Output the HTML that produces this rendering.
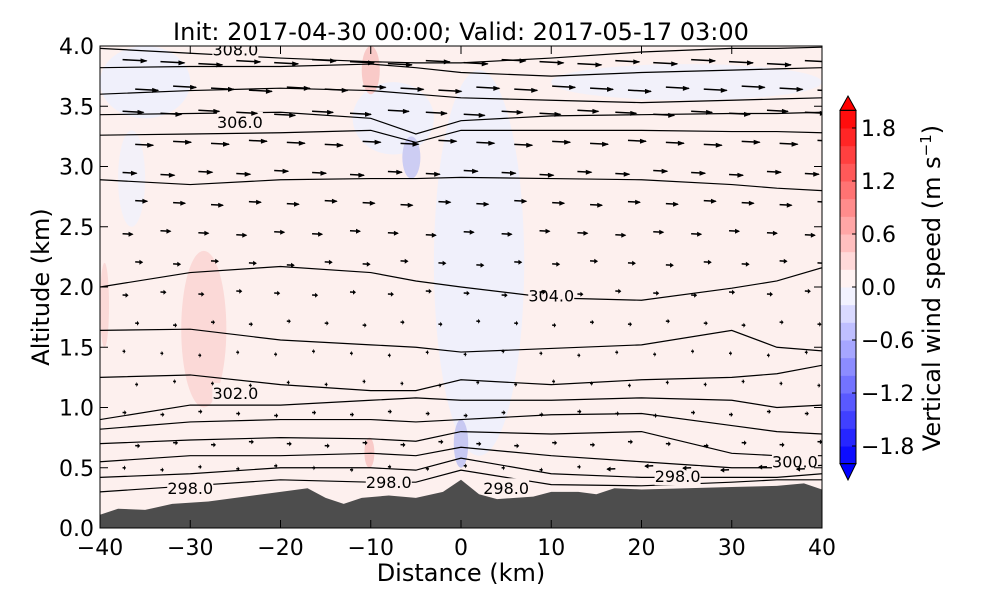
<!DOCTYPE html>
<html><head><meta charset="utf-8"><style>
body{margin:0;background:#fff;font-family:"DejaVu Sans",sans-serif}
svg text{font-family:"DejaVu Sans","Liberation Sans",sans-serif}
</style></head><body>
<svg id="chart" width="1000" height="600" viewBox="0 0 1000 600" xmlns="http://www.w3.org/2000/svg">
<defs><clipPath id="pc"><rect x="100" y="46" width="722" height="482"/></clipPath></defs>
<text x="461" y="40" font-size="24" text-anchor="middle">Init: 2017-04-30 00:00; Valid: 2017-05-17 03:00</text>
<g id="plot" clip-path="url(#pc)"></g>
<rect x="100" y="46" width="722" height="482" fill="none" stroke="#000" stroke-width="1"/>
<g id="axes"></g>
<g id="cbar"></g>
<text transform="translate(940,288) rotate(-90)" font-size="24" text-anchor="middle">Vertical wind speed (m s<tspan baseline-shift="super" font-size="15">−1</tspan>)</text>
<text x="461" y="581" font-size="24" text-anchor="middle">Distance (km)</text>
<text transform="translate(49,287) rotate(-90)" font-size="24" text-anchor="middle">Altitude (km)</text>
</svg>
<script>
const xTicks=[-40,-30,-20,-10,0,10,20,30,40];
const yTicks=[0.0,0.5,1.0,1.5,2.0,2.5,3.0,3.5,4.0];
const cbTicks=[-1.8,-1.2,-0.6,0.0,0.6,1.2,1.8];
const terrainX=[-40,-38,-35,-32,-28,-25,-20,-17,-15,-13,-11,-8,-5,-2,0,2,4,6,8,10,13,15,17,20,25,30,35,38,40];
const terrainZ=[0.11,0.16,0.15,0.2,0.22,0.25,0.3,0.33,0.25,0.2,0.25,0.27,0.25,0.3,0.4,0.28,0.24,0.25,0.26,0.3,0.3,0.28,0.33,0.32,0.33,0.34,0.35,0.37,0.32];
const contourX=[-40,-30,-20,-10,-5,0,10,20,30,35,40];
const contours=[
[3.98,3.94,3.9,3.87,3.86,3.86,3.9,3.95,3.98,3.98,3.99],
[3.82,3.83,3.83,3.85,3.82,3.78,3.75,3.78,3.8,3.81,3.82],
[3.6,3.63,3.65,3.63,3.6,3.57,3.55,3.53,3.55,3.56,3.57],
[3.43,3.44,3.45,3.4,3.27,3.38,3.42,3.43,3.44,3.44,3.45],
[3.26,3.27,3.28,3.3,3.2,3.3,3.3,3.3,3.29,3.29,3.28],
[2.89,2.85,2.89,2.9,2.9,2.91,2.9,2.89,2.85,2.82,2.8],
[2.0,2.12,2.17,2.12,2.05,2.0,1.91,1.89,1.99,2.05,2.16],
[1.64,1.65,1.56,1.52,1.5,1.46,1.49,1.52,1.64,1.5,1.47],
[1.25,1.27,1.19,1.14,1.14,1.23,1.19,1.23,1.25,1.28,1.35],
[0.9,1.02,1.02,1.06,1.08,1.06,1.06,1.08,1.06,1.0,1.02],
[0.82,0.88,0.9,0.9,0.88,0.9,0.94,0.95,0.85,0.8,0.78],
[0.7,0.73,0.75,0.74,0.72,0.8,0.78,0.8,0.62,0.6,0.6],
[0.55,0.6,0.6,0.62,0.6,0.67,0.6,0.55,0.5,0.5,0.52],
[0.42,0.45,0.5,0.5,0.48,0.58,0.45,0.42,0.42,0.42,0.45],
[0.3,0.35,0.4,0.38,0.38,0.48,0.36,0.35,0.38,0.4,0.4]];
const contourLabels=[["308.0",-25,3.97],["306.0",-24.5,3.37],["304.0",10,1.93],["302.0",-25,1.12],["300.0",37,0.55],["298.0",-30,0.33],["298.0",-8,0.38],["298.0",5,0.33],["298.0",24,0.43]];
const arrowZ=[3.87,3.65,3.45,3.2,2.95,2.7,2.45,2.2,1.95,1.7,1.45,1.2,0.95,0.7,0.5];
const arrowLen=[24,23,21,18,14,12,10,7,5,3,2,2,3,4,-8];
const wLevels=[-2.0,-1.8,-1.6,-1.4,-1.2,-1.0,-0.8,-0.6,-0.4,-0.2,0,0.2,0.4,0.6,0.8,1.0,1.2,1.4,1.6,1.8,2.0];

const NS="http://www.w3.org/2000/svg";
const X=v=>100+(v+40)*722/80, Y=v=>528-v*120.5;
function mk(t,a,p){const e=document.createElementNS(NS,t);for(const k in a)e.setAttribute(k,a[k]);p.appendChild(e);return e;}
const plot=document.getElementById('plot'),axes=document.getElementById('axes'),cb=document.getElementById('cbar');
let bg=mk('rect',{x:100,y:46,width:722,height:482,fill:'#fdf0ee'},plot);


const patches=[[-40,-30,3.4,4.0,'#f0f0fb'],[-38,-35,2.5,3.3,'#f3f1f9'],[-3,7,0.6,3.8,'#f0f0fb'],[-12,-3,3.1,3.7,'#f0f0fb'],[10,40,3.55,3.85,'#f2f1fa'],[-31,-26,1.0,2.3,'#fbd9d7'],[-40,-39,1.5,2.2,'#fbd9d7'],[-6.5,-4.5,2.9,3.25,'#cdcdf3'],[-11,-9,3.6,4.0,'#f9cac8'],[-0.8,0.8,0.5,0.9,'#c8c9f2'],[-10.7,-9.6,0.5,0.75,'#f9cac8']];
patches.forEach(p=>{const e=mk('ellipse',{cx:(X(p[0])+X(p[1]))/2,cy:(Y(p[2])+Y(p[3]))/2,rx:(X(p[1])-X(p[0]))/2,ry:(Y(p[2])-Y(p[3]))/2,fill:p[4]},plot);

});
contours.forEach(c=>{let d='';contourX.forEach((x,i)=>{d+=(i?'L':'M')+X(x)+','+Y(c[i]);});
const e=mk('path',{d:d,fill:'none',stroke:'#000','stroke-width':1.2},plot);

});
contourLabels.forEach(l=>{mk('rect',{x:X(l[1])-23,y:Y(l[2])-10,width:46,height:19,fill:'#fdf0ee'},plot);
const t=mk('text',{x:X(l[1]),y:Y(l[2])+6,'font-size':16,'text-anchor':'middle'},plot);t.textContent=l[0];

});
for(let r=0;r<arrowZ.length;r++){for(let c=0;c<19;c++){const xk=-37.5+c*4.2+(r%2)*1.4;const L=arrowLen[r]*(r==14&&xk<15?-0.3:1);
const x0=X(xk),y0=Y(arrowZ[r])+((c*7+r*3)%5-2),x1=x0+L,y1=y0+Math.abs(L)*0.05;if(Math.abs(L)<1)continue;
const g=mk('g',{},plot);

mk('line',{x1:x0,y1:y0,x2:x1,y2:y1,stroke:'#000','stroke-width':1.5},g);
const s=Math.sign(L),h=Math.min(6,Math.abs(L)*0.4);
mk('polygon',{points:`${x1+s*1},${y1} ${x1-s*h},${y1-2.5} ${x1-s*h},${y1+2.5}`,fill:'#000'},g);}}
let td='M'+X(-40)+','+Y(0);terrainX.forEach((x,i)=>td+='L'+X(x)+','+Y(terrainZ[i]));td+='L'+X(40)+','+Y(0)+'Z';
const tr=mk('path',{d:td,fill:'#4d4d4d'},plot);


xTicks.forEach(v=>{mk('line',{x1:X(v),y1:528,x2:X(v),y2:520,stroke:'#000'},axes);mk('line',{x1:X(v),y1:46,x2:X(v),y2:54,stroke:'#000'},axes);
const t=mk('text',{x:X(v),y:555,'font-size':22,'text-anchor':'middle'},axes);t.textContent=(v<0?'−':'')+Math.abs(v);

});
yTicks.forEach(v=>{mk('line',{x1:100,y1:Y(v),x2:108,y2:Y(v),stroke:'#000'},axes);mk('line',{x1:822,y1:Y(v),x2:814,y2:Y(v),stroke:'#000'},axes);
const t=mk('text',{x:94,y:Y(v)+8,'font-size':22,'text-anchor':'end'},axes);t.textContent=v.toFixed(1);

});
const C=v=>287-v*(159/1.8);
function col(v){const f=Math.min(1,Math.abs(v)/2);const g=Math.round(255*(1-f));return v>=0?`rgb(255,${g},${g})`:`rgb(${g},${g},255)`;}
for(let i=0;i<wLevels.length-1;i++){const a=wLevels[i],b=wLevels[i+1];
mk('rect',{x:840,y:C(b),width:16,height:C(a)-C(b)+0.5,fill:col((a+b)/2)},cb);}
mk('polygon',{points:`840,${C(2)} 856,${C(2)} 848,96`,fill:'#ff0000',stroke:'#000'},cb);
mk('polygon',{points:`840,${C(-2)} 856,${C(-2)} 848,480`,fill:'#0000ff',stroke:'#000'},cb);
mk('rect',{x:840,y:C(2),width:16,height:C(-2)-C(2),fill:'none',stroke:'#000'},cb);
cbTicks.forEach(v=>{mk('line',{x1:852,y1:C(v),x2:856,y2:C(v),stroke:'#000'},cb);
const t=mk('text',{x:861,y:C(v)+8,'font-size':22},cb);t.textContent=(v<0?'−':'')+Math.abs(v).toFixed(1);

});
</script>
</body></html>
